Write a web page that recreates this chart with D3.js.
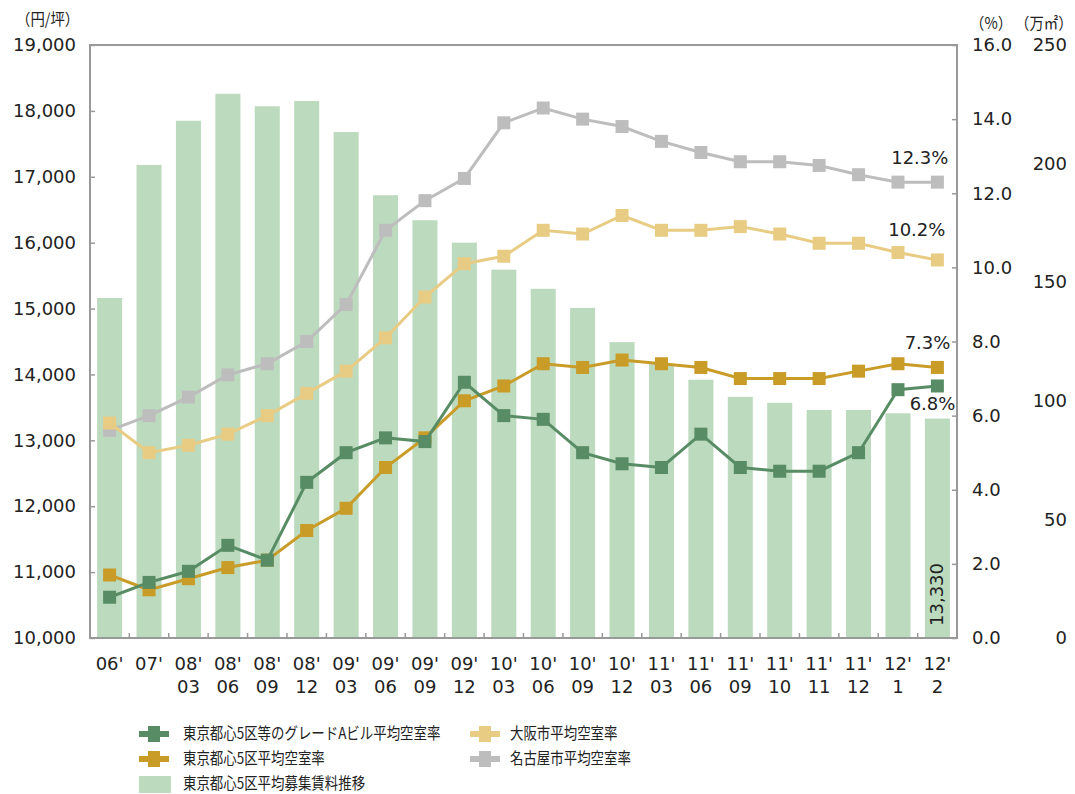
<!DOCTYPE html>
<html>
<head>
<meta charset="utf-8">
<script src="https://cdn.jsdelivr.net/npm/d3@7"></script>
<style>
  body { margin: 0; background: #fff; }
  text { font-family: "DejaVu Sans", "Noto Sans CJK JP", sans-serif; fill: #222; }
  .jp { font-family: "Noto Sans CJK JP", sans-serif; }
</style>
</head>
<body>
<div id="viz"></div>
<script>
// 期間ラベル (2段)
var periods = [["06'",""],["07'",""],["08'","03"],["08'","06"],["08'","09"],["08'","12"],
  ["09'","03"],["09'","06"],["09'","09"],["09'","12"],["10'","03"],["10'","06"],["10'","09"],
  ["10'","12"],["11'","03"],["11'","06"],["11'","09"],["11'","10"],["11'","11"],["11'","12"],
  ["12'","1"],["12'","2"]];

// 平均募集賃料 (円/坪)
var rent = [15160,17180,17850,18260,18070,18150,17680,16720,16340,16000,15590,15300,15010,
  14490,14160,13920,13660,13570,13460,13460,13410,13330];

// 空室率 (%)
var gradeA = [1.1,1.5,1.8,2.5,2.1,4.2,5.0,5.4,5.3,6.9,6.0,5.9,5.0,4.7,4.6,5.5,4.6,4.5,4.5,5.0,6.7,6.8];
var tokyo5 = [1.7,1.3,1.6,1.9,2.1,2.9,3.5,4.6,5.4,6.4,6.8,7.4,7.3,7.5,7.4,7.3,7.0,7.0,7.0,7.2,7.4,7.3];
var osaka = [5.8,5.0,5.2,5.5,6.0,6.6,7.2,8.1,9.2,10.1,10.3,11.0,10.9,11.4,11.0,11.0,11.1,10.9,10.65,10.65,10.4,10.2];
var nagoya = [5.6,6.0,6.5,7.1,7.4,8.0,9.0,11.0,11.8,12.4,13.9,14.3,14.0,13.8,13.4,13.1,12.85,12.85,12.75,12.5,12.3,12.3];

var leftTicks = [10000,11000,12000,13000,14000,15000,16000,17000,18000,19000];
var rightTicks = [0,2,4,6,8,10,12,14,16];
var areaTicks = [0,50,100,150,200,250];

var svg = d3.select("#viz").append("svg").attr("width",1075).attr("height",794);

var L = 90, R = 957, T = 45, B = 638;

var x = d3.scaleBand().domain(d3.range(periods.length)).range([L,R]).paddingInner(0.365).paddingOuter(0.18);
var yL = d3.scaleLinear().domain([10000,19000]).range([B,T]);
var yR = d3.scaleLinear().domain([0,16]).range([B,T]);
var yA = d3.scaleLinear().domain([0,250]).range([B,T]);

// 棒グラフ
svg.selectAll("rect.bar").data(rent).enter().append("rect")
  .attr("class","bar")
  .attr("x",function(d,i){return x(i);})
  .attr("width",x.bandwidth())
  .attr("y",function(d){return yL(d);})
  .attr("height",function(d){return B - yL(d);})
  .attr("fill","#bcdabe");

// 枠
svg.append("path").attr("d","M"+L+","+B+"V"+T+"H"+R+"V"+B+"Z")
  .attr("fill","none").attr("stroke","#999").attr("stroke-width",2);

// 左軸
var gl = svg.append("g").attr("transform","translate("+L+",0)")
  .call(d3.axisLeft(yL).tickValues(leftTicks).tickFormat(d3.format(",")).tickSizeInner(-5).tickSizeOuter(0).tickPadding(14));
gl.select(".domain").remove();
gl.selectAll("line").attr("stroke","#999").attr("stroke-width",1.5);
gl.selectAll("text").style("font-size","18px").attr("fill","#222");

// 右軸 (%)
var gr = svg.append("g").attr("transform","translate("+R+",0)")
  .call(d3.axisRight(yR).tickValues(rightTicks).tickFormat(d3.format(".1f")).tickSizeInner(-5).tickSizeOuter(0).tickPadding(15));
gr.select(".domain").remove();
gr.selectAll("line").attr("stroke","#999").attr("stroke-width",1.5);
gr.selectAll("text").style("font-size","18px").attr("fill","#222");

// 第3軸 (万㎡)
var ga = svg.append("g").attr("transform","translate(1067,0)")
  .call(d3.axisLeft(yA).tickValues(areaTicks).tickSize(0).tickPadding(0));
ga.select(".domain").remove();
ga.selectAll("text").style("font-size","18px").attr("fill","#222");

// x軸
var tickPos = d3.range(1,periods.length).map(function(i){return x(i) - x.step()*x.paddingInner()/2;});
svg.selectAll("line.xt").data(tickPos).enter().append("line")
  .attr("x1",function(d){return d;}).attr("x2",function(d){return d;})
  .attr("y1",B).attr("y2",B-5).attr("stroke","#999").attr("stroke-width",1.5);

var xl = svg.selectAll("text.xl").data(periods).enter().append("text")
  .attr("class","xl")
  .attr("text-anchor","middle")
  .style("font-size","18px");
xl.append("tspan").attr("x",function(d,i){return x(i)+x.bandwidth()/2;}).attr("y",670).text(function(d){return d[0];});
xl.append("tspan").attr("x",function(d,i){return x(i)+x.bandwidth()/2;}).attr("y",693).text(function(d){return d[1];});

// 単位 (横に少し詰める)
function unit(tx, ty, s) {
  svg.append("g").attr("transform","translate("+tx+","+ty+") scale(0.9,1)")
    .append("text").attr("class","jp").style("font-size","16px").text(s);
}
unit(16,25,"（円/坪）");
unit(970,29,"（%）");
unit(1015,29,"（万㎡）");

// 折れ線
var series = [
  {name:"名古屋市平均空室率", values:nagoya, color:"#bdbdbd"},
  {name:"大阪市平均空室率", values:osaka, color:"#e8cc84"},
  {name:"東京都心5区平均空室率", values:tokyo5, color:"#c99b27"},
  {name:"東京都心5区等のグレードAビル平均空室率", values:gradeA, color:"#588c64"}
];
var line = d3.line().x(function(d,i){return x(i)+x.bandwidth()/2;}).y(function(d){return yR(d);});
var ms = 13;
series.forEach(function(s){
  svg.append("path").attr("d",line(s.values)).attr("fill","none")
    .attr("stroke",s.color).attr("stroke-width",3);
  svg.selectAll(null).data(s.values).enter().append("rect")
    .attr("x",function(d,i){return x(i)+x.bandwidth()/2-ms/2;})
    .attr("y",function(d){return yR(d)-ms/2;})
    .attr("width",ms).attr("height",ms).attr("fill",s.color);
});

// データラベル
var last = periods.length-1;
var cx = x(last)+x.bandwidth()/2;
svg.append("text").attr("x",cx+11).attr("y",yR(nagoya[last])-18).attr("text-anchor","end").style("font-size","18px").text("12.3%");
svg.append("text").attr("x",cx+8).attr("y",yR(osaka[last])-24).attr("text-anchor","end").style("font-size","18px").text("10.2%");
svg.append("text").attr("x",cx+13).attr("y",yR(tokyo5[last])-18).attr("text-anchor","end").style("font-size","18px").text("7.3%");
svg.append("text").attr("x",cx+18).attr("y",yR(gradeA[last])+24).attr("text-anchor","end").style("font-size","18px").text("6.8%");
svg.append("text").attr("transform","translate("+(cx+6)+",626) rotate(-90)")
  .style("font-size","18px").text(d3.format(",")(rent[last]));

// 凡例
var legend = [
  {name:series[3].name, color:series[3].color, type:"line", lx:139, ly:734},
  {name:series[2].name, color:series[2].color, type:"line", lx:139, ly:759},
  {name:"東京都心5区平均募集賃料推移", color:"#bcdabe", type:"bar", lx:139, ly:784},
  {name:series[1].name, color:series[1].color, type:"line", lx:470, ly:734},
  {name:series[0].name, color:series[0].color, type:"line", lx:470, ly:759}
];
var lg = svg.selectAll("g.lg").data(legend).enter().append("g")
  .attr("transform",function(d){return "translate("+d.lx+","+d.ly+")";});
lg.each(function(d){
  var g = d3.select(this);
  if (d.type == "line") {
    g.append("line").attr("x1",0).attr("x2",30).attr("stroke",d.color).attr("stroke-width",6);
    g.append("rect").attr("x",9).attr("y",-8).attr("width",12).attr("height",16).attr("fill",d.color);
  } else {
    g.append("rect").attr("x",0).attr("y",-8).attr("width",32).attr("height",17).attr("fill",d.color);
  }
  g.append("g").attr("transform","translate("+(d.lx < 300 ? 44 : 40)+",5) scale(0.84,1)")
    .append("text").attr("class","jp").style("font-size","16px").text(d.name);
});
</script>
</body>
</html>
